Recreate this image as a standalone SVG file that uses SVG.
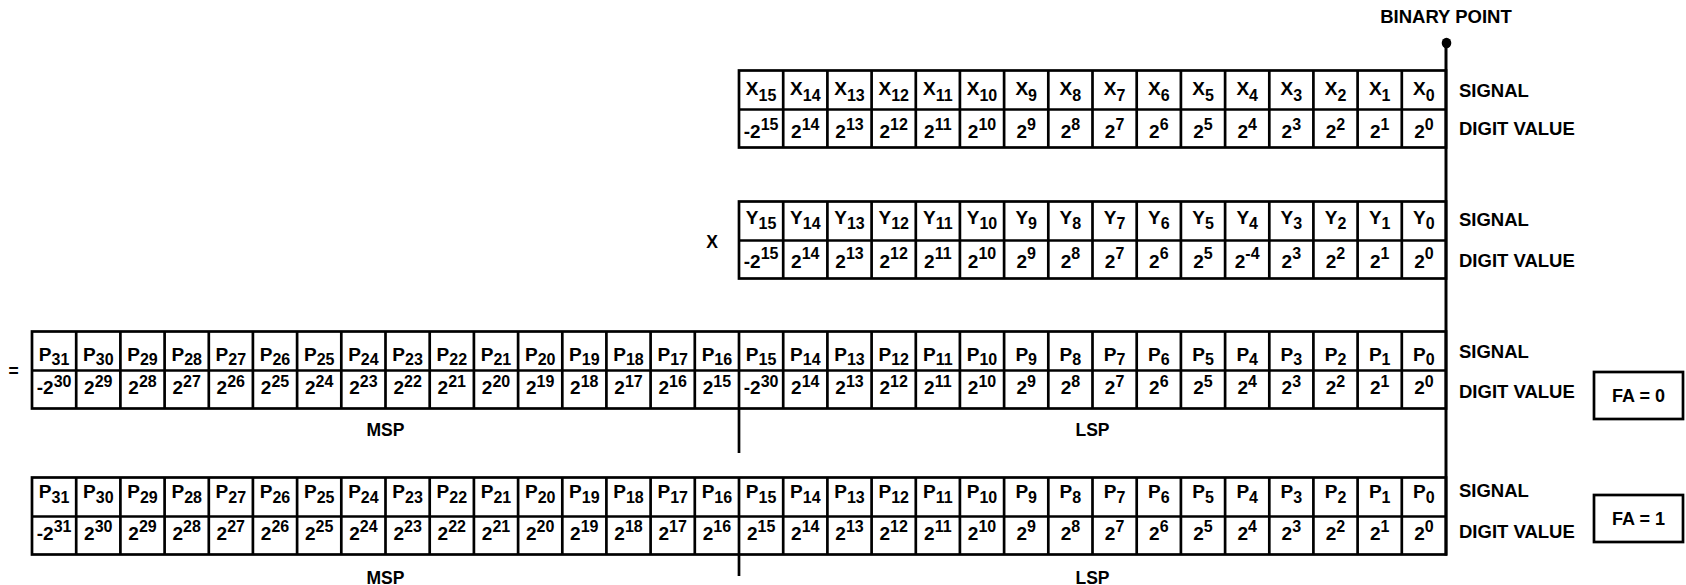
<svg xmlns="http://www.w3.org/2000/svg" xmlns:xlink="http://www.w3.org/1999/xlink" width="1686" height="585" viewBox="0 0 1686 585">
<defs>
<style>
.box{fill:#fff;stroke:#000;stroke-width:2.7}
.ln{fill:none;stroke:#000;stroke-width:2.7}
.t text{font-family:"Liberation Sans",Arial,sans-serif;font-weight:bold;font-size:19px;text-anchor:middle;fill:#000}
.t tspan{font-size:16px}
.lbl{font-family:"Liberation Sans",Arial,sans-serif;font-weight:bold;font-size:18.5px;fill:#000}
.sm{font-size:17.5px}
.fa{font-size:18px}
.mid{text-anchor:middle}
</style>
<path id="v32" d="M76.2 0V77M120.4 0V77M164.6 0V77M208.8 0V77M252.9 0V77M297.1 0V77M341.3 0V77M385.5 0V77M429.7 0V77M473.9 0V77M518.1 0V77M562.3 0V77M606.4 0V77M650.6 0V77M694.8 0V77M739 0V77M783.2 0V77M827.4 0V77M871.6 0V77M915.8 0V77M959.9 0V77M1004.1 0V77M1048.3 0V77M1092.5 0V77M1136.7 0V77M1180.9 0V77M1225.1 0V77M1269.3 0V77M1313.4 0V77M1357.6 0V77M1401.8 0V77"/>
<path id="v16" d="M783.2 0V77M827.4 0V77M871.6 0V77M915.8 0V77M959.9 0V77M1004.1 0V77M1048.3 0V77M1092.5 0V77M1136.7 0V77M1180.9 0V77M1225.1 0V77M1269.3 0V77M1313.4 0V77M1357.6 0V77M1401.8 0V77"/>
</defs>

<rect width="1686" height="585" fill="#fff"/>

<g id="binary-point-label">
<text class="lbl mid" x="1446" y="23">BINARY POINT</text>
</g>

<g id="x-register">
<rect class="box" x="739" y="70.5" width="707" height="77"/>
<line class="ln" x1="739" y1="109.5" x2="1446" y2="109.5"/>
<use xlink:href="#v16" y="70.5" class="ln"/>
<g class="t">
<text x="761.1" y="94.5">X<tspan dy="6.5">15</tspan></text>
<text x="805.3" y="94.5">X<tspan dy="6.5">14</tspan></text>
<text x="849.5" y="94.5">X<tspan dy="6.5">13</tspan></text>
<text x="893.7" y="94.5">X<tspan dy="6.5">12</tspan></text>
<text x="937.8" y="94.5">X<tspan dy="6.5">11</tspan></text>
<text x="982.0" y="94.5">X<tspan dy="6.5">10</tspan></text>
<text x="1026.2" y="94.5">X<tspan dy="6.5">9</tspan></text>
<text x="1070.4" y="94.5">X<tspan dy="6.5">8</tspan></text>
<text x="1114.6" y="94.5">X<tspan dy="6.5">7</tspan></text>
<text x="1158.8" y="94.5">X<tspan dy="6.5">6</tspan></text>
<text x="1203.0" y="94.5">X<tspan dy="6.5">5</tspan></text>
<text x="1247.2" y="94.5">X<tspan dy="6.5">4</tspan></text>
<text x="1291.3" y="94.5">X<tspan dy="6.5">3</tspan></text>
<text x="1335.5" y="94.5">X<tspan dy="6.5">2</tspan></text>
<text x="1379.7" y="94.5">X<tspan dy="6.5">1</tspan></text>
<text x="1423.9" y="94.5">X<tspan dy="6.5">0</tspan></text>
<text x="761.1" y="138">-2<tspan dy="-8.5">15</tspan></text>
<text x="805.3" y="138">2<tspan dy="-8.5">14</tspan></text>
<text x="849.5" y="138">2<tspan dy="-8.5">13</tspan></text>
<text x="893.7" y="138">2<tspan dy="-8.5">12</tspan></text>
<text x="937.8" y="138">2<tspan dy="-8.5">11</tspan></text>
<text x="982.0" y="138">2<tspan dy="-8.5">10</tspan></text>
<text x="1026.2" y="138">2<tspan dy="-8.5">9</tspan></text>
<text x="1070.4" y="138">2<tspan dy="-8.5">8</tspan></text>
<text x="1114.6" y="138">2<tspan dy="-8.5">7</tspan></text>
<text x="1158.8" y="138">2<tspan dy="-8.5">6</tspan></text>
<text x="1203.0" y="138">2<tspan dy="-8.5">5</tspan></text>
<text x="1247.2" y="138">2<tspan dy="-8.5">4</tspan></text>
<text x="1291.3" y="138">2<tspan dy="-8.5">3</tspan></text>
<text x="1335.5" y="138">2<tspan dy="-8.5">2</tspan></text>
<text x="1379.7" y="138">2<tspan dy="-8.5">1</tspan></text>
<text x="1423.9" y="138">2<tspan dy="-8.5">0</tspan></text>
</g>
<text class="lbl" x="1459" y="96.5">SIGNAL</text>
<text class="lbl" x="1459" y="135">DIGIT VALUE</text>
</g>

<g id="multiply-sign">
<text class="lbl sm mid" x="712" y="247.5">X</text>
</g>

<g id="y-register">
<rect class="box" x="739" y="201.5" width="707" height="77"/>
<line class="ln" x1="739" y1="240.5" x2="1446" y2="240.5"/>
<use xlink:href="#v16" y="201.5" class="ln"/>
<g class="t">
<text x="761.1" y="223.5">Y<tspan dy="5.5">15</tspan></text>
<text x="805.3" y="223.5">Y<tspan dy="5.5">14</tspan></text>
<text x="849.5" y="223.5">Y<tspan dy="5.5">13</tspan></text>
<text x="893.7" y="223.5">Y<tspan dy="5.5">12</tspan></text>
<text x="937.8" y="223.5">Y<tspan dy="5.5">11</tspan></text>
<text x="982.0" y="223.5">Y<tspan dy="5.5">10</tspan></text>
<text x="1026.2" y="223.5">Y<tspan dy="5.5">9</tspan></text>
<text x="1070.4" y="223.5">Y<tspan dy="5.5">8</tspan></text>
<text x="1114.6" y="223.5">Y<tspan dy="5.5">7</tspan></text>
<text x="1158.8" y="223.5">Y<tspan dy="5.5">6</tspan></text>
<text x="1203.0" y="223.5">Y<tspan dy="5.5">5</tspan></text>
<text x="1247.2" y="223.5">Y<tspan dy="5.5">4</tspan></text>
<text x="1291.3" y="223.5">Y<tspan dy="5.5">3</tspan></text>
<text x="1335.5" y="223.5">Y<tspan dy="5.5">2</tspan></text>
<text x="1379.7" y="223.5">Y<tspan dy="5.5">1</tspan></text>
<text x="1423.9" y="223.5">Y<tspan dy="5.5">0</tspan></text>
<text x="761.1" y="267.5">-2<tspan dy="-8.5">15</tspan></text>
<text x="805.3" y="267.5">2<tspan dy="-8.5">14</tspan></text>
<text x="849.5" y="267.5">2<tspan dy="-8.5">13</tspan></text>
<text x="893.7" y="267.5">2<tspan dy="-8.5">12</tspan></text>
<text x="937.8" y="267.5">2<tspan dy="-8.5">11</tspan></text>
<text x="982.0" y="267.5">2<tspan dy="-8.5">10</tspan></text>
<text x="1026.2" y="267.5">2<tspan dy="-8.5">9</tspan></text>
<text x="1070.4" y="267.5">2<tspan dy="-8.5">8</tspan></text>
<text x="1114.6" y="267.5">2<tspan dy="-8.5">7</tspan></text>
<text x="1158.8" y="267.5">2<tspan dy="-8.5">6</tspan></text>
<text x="1203.0" y="267.5">2<tspan dy="-8.5">5</tspan></text>
<text x="1247.2" y="267.5">2<tspan dy="-8.5">-4</tspan></text>
<text x="1291.3" y="267.5">2<tspan dy="-8.5">3</tspan></text>
<text x="1335.5" y="267.5">2<tspan dy="-8.5">2</tspan></text>
<text x="1379.7" y="267.5">2<tspan dy="-8.5">1</tspan></text>
<text x="1423.9" y="267.5">2<tspan dy="-8.5">0</tspan></text>
</g>
<text class="lbl" x="1459" y="226">SIGNAL</text>
<text class="lbl" x="1459" y="266.5">DIGIT VALUE</text>
</g>

<g id="equals-sign">
<text class="lbl sm mid" x="13.5" y="377">=</text>
</g>

<g id="product-fa0">
<rect class="box" x="32" y="331.5" width="1414" height="77"/>
<line class="ln" x1="32" y1="370.5" x2="1446" y2="370.5"/>
<use xlink:href="#v32" y="331.5" class="ln"/>
<g class="t">
<text x="54.1" y="360.5">P<tspan dy="4.5">31</tspan></text>
<text x="98.3" y="360.5">P<tspan dy="4.5">30</tspan></text>
<text x="142.5" y="360.5">P<tspan dy="4.5">29</tspan></text>
<text x="186.7" y="360.5">P<tspan dy="4.5">28</tspan></text>
<text x="230.8" y="360.5">P<tspan dy="4.5">27</tspan></text>
<text x="275.0" y="360.5">P<tspan dy="4.5">26</tspan></text>
<text x="319.2" y="360.5">P<tspan dy="4.5">25</tspan></text>
<text x="363.4" y="360.5">P<tspan dy="4.5">24</tspan></text>
<text x="407.6" y="360.5">P<tspan dy="4.5">23</tspan></text>
<text x="451.8" y="360.5">P<tspan dy="4.5">22</tspan></text>
<text x="496.0" y="360.5">P<tspan dy="4.5">21</tspan></text>
<text x="540.2" y="360.5">P<tspan dy="4.5">20</tspan></text>
<text x="584.3" y="360.5">P<tspan dy="4.5">19</tspan></text>
<text x="628.5" y="360.5">P<tspan dy="4.5">18</tspan></text>
<text x="672.7" y="360.5">P<tspan dy="4.5">17</tspan></text>
<text x="716.9" y="360.5">P<tspan dy="4.5">16</tspan></text>
<text x="761.1" y="360.5">P<tspan dy="4.5">15</tspan></text>
<text x="805.3" y="360.5">P<tspan dy="4.5">14</tspan></text>
<text x="849.5" y="360.5">P<tspan dy="4.5">13</tspan></text>
<text x="893.7" y="360.5">P<tspan dy="4.5">12</tspan></text>
<text x="937.8" y="360.5">P<tspan dy="4.5">11</tspan></text>
<text x="982.0" y="360.5">P<tspan dy="4.5">10</tspan></text>
<text x="1026.2" y="360.5">P<tspan dy="4.5">9</tspan></text>
<text x="1070.4" y="360.5">P<tspan dy="4.5">8</tspan></text>
<text x="1114.6" y="360.5">P<tspan dy="4.5">7</tspan></text>
<text x="1158.8" y="360.5">P<tspan dy="4.5">6</tspan></text>
<text x="1203.0" y="360.5">P<tspan dy="4.5">5</tspan></text>
<text x="1247.2" y="360.5">P<tspan dy="4.5">4</tspan></text>
<text x="1291.3" y="360.5">P<tspan dy="4.5">3</tspan></text>
<text x="1335.5" y="360.5">P<tspan dy="4.5">2</tspan></text>
<text x="1379.7" y="360.5">P<tspan dy="4.5">1</tspan></text>
<text x="1423.9" y="360.5">P<tspan dy="4.5">0</tspan></text>
<text x="54.1" y="393.5">-2<tspan dy="-6.5">30</tspan></text>
<text x="98.3" y="393.5">2<tspan dy="-6.5">29</tspan></text>
<text x="142.5" y="393.5">2<tspan dy="-6.5">28</tspan></text>
<text x="186.7" y="393.5">2<tspan dy="-6.5">27</tspan></text>
<text x="230.8" y="393.5">2<tspan dy="-6.5">26</tspan></text>
<text x="275.0" y="393.5">2<tspan dy="-6.5">25</tspan></text>
<text x="319.2" y="393.5">2<tspan dy="-6.5">24</tspan></text>
<text x="363.4" y="393.5">2<tspan dy="-6.5">23</tspan></text>
<text x="407.6" y="393.5">2<tspan dy="-6.5">22</tspan></text>
<text x="451.8" y="393.5">2<tspan dy="-6.5">21</tspan></text>
<text x="496.0" y="393.5">2<tspan dy="-6.5">20</tspan></text>
<text x="540.2" y="393.5">2<tspan dy="-6.5">19</tspan></text>
<text x="584.3" y="393.5">2<tspan dy="-6.5">18</tspan></text>
<text x="628.5" y="393.5">2<tspan dy="-6.5">17</tspan></text>
<text x="672.7" y="393.5">2<tspan dy="-6.5">16</tspan></text>
<text x="716.9" y="393.5">2<tspan dy="-6.5">15</tspan></text>
<text x="761.1" y="393.5">-2<tspan dy="-6.5">30</tspan></text>
<text x="805.3" y="393.5">2<tspan dy="-6.5">14</tspan></text>
<text x="849.5" y="393.5">2<tspan dy="-6.5">13</tspan></text>
<text x="893.7" y="393.5">2<tspan dy="-6.5">12</tspan></text>
<text x="937.8" y="393.5">2<tspan dy="-6.5">11</tspan></text>
<text x="982.0" y="393.5">2<tspan dy="-6.5">10</tspan></text>
<text x="1026.2" y="393.5">2<tspan dy="-6.5">9</tspan></text>
<text x="1070.4" y="393.5">2<tspan dy="-6.5">8</tspan></text>
<text x="1114.6" y="393.5">2<tspan dy="-6.5">7</tspan></text>
<text x="1158.8" y="393.5">2<tspan dy="-6.5">6</tspan></text>
<text x="1203.0" y="393.5">2<tspan dy="-6.5">5</tspan></text>
<text x="1247.2" y="393.5">2<tspan dy="-6.5">4</tspan></text>
<text x="1291.3" y="393.5">2<tspan dy="-6.5">3</tspan></text>
<text x="1335.5" y="393.5">2<tspan dy="-6.5">2</tspan></text>
<text x="1379.7" y="393.5">2<tspan dy="-6.5">1</tspan></text>
<text x="1423.9" y="393.5">2<tspan dy="-6.5">0</tspan></text>
</g>
<text class="lbl" x="1459" y="357.5">SIGNAL</text>
<text class="lbl" x="1459" y="397.5">DIGIT VALUE</text>
<text class="lbl sm mid" x="385.5" y="436">MSP</text>
<text class="lbl sm mid" x="1092.5" y="436">LSP</text>
</g>

<g id="fa0-box">
<rect class="box" x="1594" y="372" width="89" height="47"/>
<text class="lbl fa mid" x="1638.5" y="402">FA = 0</text>
</g>

<g id="product-fa1">
<rect class="box" x="32" y="477.5" width="1414" height="77"/>
<line class="ln" x1="32" y1="516.5" x2="1446" y2="516.5"/>
<use xlink:href="#v32" y="477.5" class="ln"/>
<g class="t">
<text x="54.1" y="498">P<tspan dy="5">31</tspan></text>
<text x="98.3" y="498">P<tspan dy="5">30</tspan></text>
<text x="142.5" y="498">P<tspan dy="5">29</tspan></text>
<text x="186.7" y="498">P<tspan dy="5">28</tspan></text>
<text x="230.8" y="498">P<tspan dy="5">27</tspan></text>
<text x="275.0" y="498">P<tspan dy="5">26</tspan></text>
<text x="319.2" y="498">P<tspan dy="5">25</tspan></text>
<text x="363.4" y="498">P<tspan dy="5">24</tspan></text>
<text x="407.6" y="498">P<tspan dy="5">23</tspan></text>
<text x="451.8" y="498">P<tspan dy="5">22</tspan></text>
<text x="496.0" y="498">P<tspan dy="5">21</tspan></text>
<text x="540.2" y="498">P<tspan dy="5">20</tspan></text>
<text x="584.3" y="498">P<tspan dy="5">19</tspan></text>
<text x="628.5" y="498">P<tspan dy="5">18</tspan></text>
<text x="672.7" y="498">P<tspan dy="5">17</tspan></text>
<text x="716.9" y="498">P<tspan dy="5">16</tspan></text>
<text x="761.1" y="498">P<tspan dy="5">15</tspan></text>
<text x="805.3" y="498">P<tspan dy="5">14</tspan></text>
<text x="849.5" y="498">P<tspan dy="5">13</tspan></text>
<text x="893.7" y="498">P<tspan dy="5">12</tspan></text>
<text x="937.8" y="498">P<tspan dy="5">11</tspan></text>
<text x="982.0" y="498">P<tspan dy="5">10</tspan></text>
<text x="1026.2" y="498">P<tspan dy="5">9</tspan></text>
<text x="1070.4" y="498">P<tspan dy="5">8</tspan></text>
<text x="1114.6" y="498">P<tspan dy="5">7</tspan></text>
<text x="1158.8" y="498">P<tspan dy="5">6</tspan></text>
<text x="1203.0" y="498">P<tspan dy="5">5</tspan></text>
<text x="1247.2" y="498">P<tspan dy="5">4</tspan></text>
<text x="1291.3" y="498">P<tspan dy="5">3</tspan></text>
<text x="1335.5" y="498">P<tspan dy="5">2</tspan></text>
<text x="1379.7" y="498">P<tspan dy="5">1</tspan></text>
<text x="1423.9" y="498">P<tspan dy="5">0</tspan></text>
<text x="54.1" y="540">-2<tspan dy="-8.5">31</tspan></text>
<text x="98.3" y="540">2<tspan dy="-8.5">30</tspan></text>
<text x="142.5" y="540">2<tspan dy="-8.5">29</tspan></text>
<text x="186.7" y="540">2<tspan dy="-8.5">28</tspan></text>
<text x="230.8" y="540">2<tspan dy="-8.5">27</tspan></text>
<text x="275.0" y="540">2<tspan dy="-8.5">26</tspan></text>
<text x="319.2" y="540">2<tspan dy="-8.5">25</tspan></text>
<text x="363.4" y="540">2<tspan dy="-8.5">24</tspan></text>
<text x="407.6" y="540">2<tspan dy="-8.5">23</tspan></text>
<text x="451.8" y="540">2<tspan dy="-8.5">22</tspan></text>
<text x="496.0" y="540">2<tspan dy="-8.5">21</tspan></text>
<text x="540.2" y="540">2<tspan dy="-8.5">20</tspan></text>
<text x="584.3" y="540">2<tspan dy="-8.5">19</tspan></text>
<text x="628.5" y="540">2<tspan dy="-8.5">18</tspan></text>
<text x="672.7" y="540">2<tspan dy="-8.5">17</tspan></text>
<text x="716.9" y="540">2<tspan dy="-8.5">16</tspan></text>
<text x="761.1" y="540">2<tspan dy="-8.5">15</tspan></text>
<text x="805.3" y="540">2<tspan dy="-8.5">14</tspan></text>
<text x="849.5" y="540">2<tspan dy="-8.5">13</tspan></text>
<text x="893.7" y="540">2<tspan dy="-8.5">12</tspan></text>
<text x="937.8" y="540">2<tspan dy="-8.5">11</tspan></text>
<text x="982.0" y="540">2<tspan dy="-8.5">10</tspan></text>
<text x="1026.2" y="540">2<tspan dy="-8.5">9</tspan></text>
<text x="1070.4" y="540">2<tspan dy="-8.5">8</tspan></text>
<text x="1114.6" y="540">2<tspan dy="-8.5">7</tspan></text>
<text x="1158.8" y="540">2<tspan dy="-8.5">6</tspan></text>
<text x="1203.0" y="540">2<tspan dy="-8.5">5</tspan></text>
<text x="1247.2" y="540">2<tspan dy="-8.5">4</tspan></text>
<text x="1291.3" y="540">2<tspan dy="-8.5">3</tspan></text>
<text x="1335.5" y="540">2<tspan dy="-8.5">2</tspan></text>
<text x="1379.7" y="540">2<tspan dy="-8.5">1</tspan></text>
<text x="1423.9" y="540">2<tspan dy="-8.5">0</tspan></text>
</g>
<text class="lbl" x="1459" y="497">SIGNAL</text>
<text class="lbl" x="1459" y="538">DIGIT VALUE</text>
<text class="lbl sm mid" x="385.5" y="583.5">MSP</text>
<text class="lbl sm mid" x="1092.5" y="583.5">LSP</text>
</g>

<g id="fa1-box">
<rect class="box" x="1594" y="495" width="89" height="47"/>
<text class="lbl fa mid" x="1638.5" y="525">FA = 1</text>
</g>

<g id="connectors">
<ellipse cx="1446.5" cy="43" rx="4.8" ry="5.3" fill="#000"/>
<line class="ln" x1="1446" y1="43" x2="1446" y2="555.5" style="stroke-width:3"/>
<line class="ln" x1="739" y1="408.5" x2="739" y2="453"/>
<line class="ln" x1="739" y1="554.5" x2="739" y2="576"/>
</g>
</svg>
